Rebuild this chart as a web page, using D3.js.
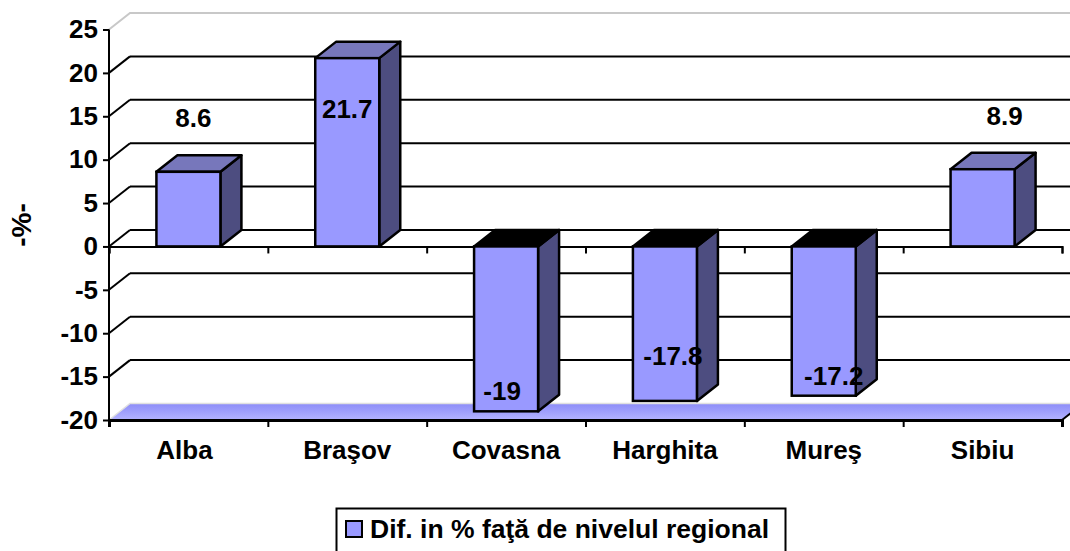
<!DOCTYPE html>
<html>
<head>
<meta charset="utf-8">
<script src="https://cdn.jsdelivr.net/npm/d3@7"></script>
<style>
  html, body { margin: 0; padding: 0; background: #fff; overflow: hidden; }
  text { font-family: "Liberation Sans", Arial, sans-serif; font-weight: bold; fill: #000; }
  .axis path, .axis line { stroke: #000; stroke-width: 2px; }
</style>
</head>
<body>
<div id="chart"></div>
<script>
var categories = ["Alba", "Braşov", "Covasna", "Harghita", "Mureş", "Sibiu"];
var values = [8.6, 21.7, -19, -17.8, -17.2, 8.9];
var yTicks = [25, 20, 15, 10, 5, 0, -5, -10, -15, -20];
var seriesName = "Dif. in % faţă de nivelul regional";

var width = 1070, height = 551;
var left = 109, right = 1062;
var fontSize = "26px";

// 3d offset of the back wall
var depthX = 21, depthY = 16.5;

// Labels sit where the original put them, not on the bars
var labelShift = [[5, -45], [0, 60], [-4, -11.5], [8, -36], [10, -11], [22, -44]];

var svg = d3.select("#chart")
            .append("svg")
            .attr("width", width)
            .attr("height", height)
            .style("display", "block");

var defs = svg.append("defs");
var floorGrad = defs.append("linearGradient")
                    .attr("id", "floorGrad")
                    .attr("x1", 0).attr("y1", 0).attr("x2", 0).attr("y2", 1);
floorGrad.append("stop").attr("offset", "0%").attr("stop-color", "#8c8cf8");
floorGrad.append("stop").attr("offset", "100%").attr("stop-color", "#b4b4ff");

var x = d3.scaleBand()
  .domain(categories)
  .range([left, right])
  .paddingInner(0.597)
  .paddingOuter(0.2985);

var xEdge = d3.scaleLinear()
  .domain([0, categories.length])
  .range([left, right]);

var y = d3.scaleLinear()
  .domain([-20, 25])
  .range([420, 29.5]);

function poly(points) {
  return points.map(function(p) { return p.join(","); }).join(" ");
}

// Back wall grid and the diagonals on the side wall
var inner = yTicks.filter(function(d) { return d !== 25 && d !== -20; });

svg.selectAll("line.grid")
  .data(inner)
  .enter()
  .append("line")
  .attr("class", "grid")
  .attr("x1", left + depthX)
  .attr("x2", width)
  .attr("y1", function(d) { return y(d) - depthY; })
  .attr("y2", function(d) { return y(d) - depthY; })
  .style("stroke", "#000")
  .style("stroke-width", 2);

svg.selectAll("line.side")
  .data(inner)
  .enter()
  .append("line")
  .attr("class", "side")
  .attr("x1", left)
  .attr("x2", left + depthX)
  .attr("y1", function(d) { return y(d); })
  .attr("y2", function(d) { return y(d) - depthY; })
  .style("stroke", "#000")
  .style("stroke-width", 2);

// Pale top edge of the wall
svg.append("polyline")
  .attr("points", poly([[left, y(25)], [left + depthX, y(25) - depthY], [width, y(25) - depthY]]))
  .style("fill", "none")
  .style("stroke", "#c8c8c8")
  .style("stroke-width", 2);

// Floor
svg.append("polygon")
  .attr("points", poly([[left, y(-20)], [right, y(-20)], [right + depthX, y(-20) - depthY], [left + depthX, y(-20) - depthY]]))
  .style("fill", "url(#floorGrad)");

svg.append("polyline")
  .attr("points", poly([[left, y(-20)], [left + depthX, y(-20) - depthY], [width, y(-20) - depthY]]))
  .style("fill", "none")
  .style("stroke", "#e0e0e0")
  .style("stroke-width", 1.5);

svg.append("line")
  .attr("x1", right)
  .attr("x2", right + depthX)
  .attr("y1", y(-20))
  .attr("y2", y(-20) - depthY)
  .style("stroke", "#000")
  .style("stroke-width", 2);

// Zero plane
var zeroAxis = d3.axisBottom(xEdge)
  .tickValues(d3.range(categories.length + 1))
  .tickSize(7)
  .tickFormat("");

svg.append("g")
  .attr("class", "axis")
  .attr("transform", "translate(0," + y(0) + ")")
  .call(zeroAxis);

// Bars
var bars = svg.selectAll("g.bar")
  .data(values)
  .enter()
  .append("g")
  .attr("class", "bar");

bars.append("polygon")
  .attr("points", function(d, i) {
    var x1 = x(categories[i]) + x.bandwidth();
    return poly([[x1, y(d)], [x1, y(0)], [x1 + depthX, y(0) - depthY], [x1 + depthX, y(d) - depthY]]);
  })
  .style("fill", "#4d4d80")
  .style("stroke", "#000")
  .style("stroke-width", 2.5)
  .style("stroke-linejoin", "round");

bars.append("polygon")
  .attr("points", function(d, i) {
    var x0 = x(categories[i]), x1 = x0 + x.bandwidth(), top = y(Math.max(d, 0));
    return poly([[x0, top], [x1, top], [x1 + depthX, top - depthY], [x0 + depthX, top - depthY]]);
  })
  .style("fill", function(d) { return d < 0 ? "#000" : "#7777bb"; })
  .style("stroke", "#000")
  .style("stroke-width", 2.5)
  .style("stroke-linejoin", "round");

bars.append("rect")
  .attr("x", function(d, i) { return x(categories[i]); })
  .attr("y", function(d) { return y(Math.max(d, 0)); })
  .attr("width", x.bandwidth())
  .attr("height", function(d) { return Math.abs(y(d) - y(0)); })
  .style("fill", "#9999ff")
  .style("stroke", "#000")
  .style("stroke-width", 2.5);

// Axes
var yAxis = d3.axisLeft(y)
  .tickValues(yTicks)
  .tickSize(6)
  .tickPadding(5)
  .tickFormat(function(d) { return String(d); });

var yGroup = svg.append("g")
  .attr("class", "axis")
  .attr("transform", "translate(" + left + ",0)")
  .call(yAxis);

yGroup.select(".domain").attr("d", "M0," + y(25) + "V" + y(-20));
yGroup.selectAll("text").style("font-size", fontSize).style("font-family", null);

var bottomAxis = d3.axisBottom(xEdge)
  .tickValues(d3.range(categories.length + 1))
  .tickSize(7)
  .tickFormat("");

svg.append("g")
  .attr("class", "axis")
  .attr("transform", "translate(0," + y(-20) + ")")
  .call(bottomAxis)
  .select(".domain")
  .style("stroke-width", 3);

var labelAxis = d3.axisBottom(x).tickSize(0).tickPadding(21);

var labelGroup = svg.append("g")
  .attr("transform", "translate(0," + y(-20) + ")")
  .call(labelAxis);

labelGroup.select(".domain").remove();
labelGroup.selectAll("text").style("font-size", fontSize).style("font-family", null);

// Alba sits a little left of its band in the original
labelGroup.selectAll("text")
  .filter(function(d) { return d === "Alba"; })
  .attr("dx", -4);

// Data labels
svg.selectAll("text.value")
  .data(values)
  .enter()
  .append("text")
  .attr("class", "value")
  .attr("text-anchor", "middle")
  .attr("x", function(d, i) { return x(categories[i]) + x.bandwidth() / 2 + labelShift[i][0]; })
  .attr("y", function(d, i) { return y(d) + labelShift[i][1]; })
  .style("font-size", fontSize)
  .text(function(d) { return d; });

// Y title
svg.append("text")
  .attr("text-anchor", "middle")
  .attr("transform", "translate(31,225) rotate(-90)")
  .style("font-size", "28px")
  .text("-%-");

// Legend, the box runs off the bottom of the picture
var legend = svg.append("g");

legend.append("rect")
  .attr("x", 336.5)
  .attr("y", 508.5)
  .attr("width", 449)
  .attr("height", 60)
  .style("fill", "#fff")
  .style("stroke", "#000")
  .style("stroke-width", 2);

legend.append("rect")
  .attr("x", 346)
  .attr("y", 521)
  .attr("width", 16)
  .attr("height", 16)
  .style("fill", "#9999ff")
  .style("stroke", "#000")
  .style("stroke-width", 2);

legend.append("text")
  .attr("x", 370)
  .attr("y", 538)
  .style("font-size", "26.5px")
  .text(seriesName);
</script>
</body>
</html>
